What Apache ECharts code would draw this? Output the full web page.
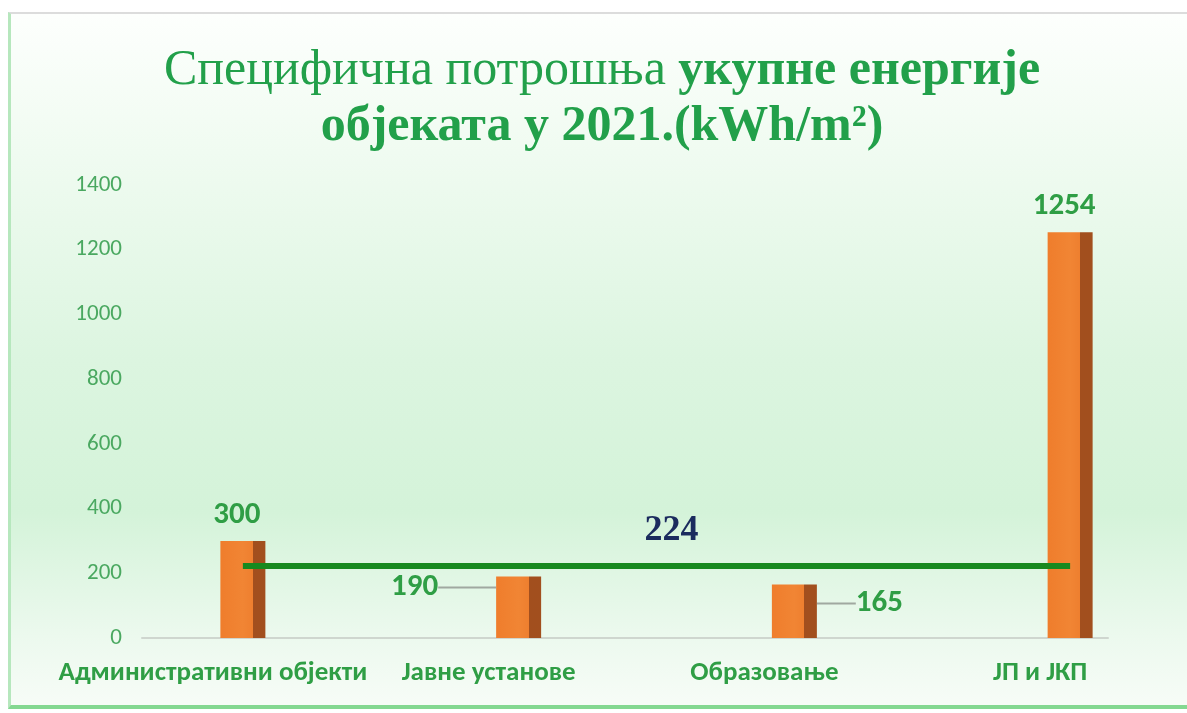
<!DOCTYPE html>
<html>
<head>
<meta charset="utf-8">
<script src="https://cdn.jsdelivr.net/npm/echarts@6/dist/echarts.min.js"></script>
<style>
  html, body { margin: 0; padding: 0; background: #ffffff; width: 1187px; height: 713px; overflow: hidden; }
  #wrap { position: absolute; left: 8px; top: 12px; width: 1179px; height: 697px; box-sizing: border-box; overflow: hidden;
          border-top: 2px solid #dcdcdc; border-left: 3px solid #b6e7bd; border-bottom: 4px solid #84d891; }
  #chart { width: 1240px; height: 691px; }
</style>
</head>
<body>
<div id="wrap"><div id="chart"></div></div>
<script>
// ---- data ----
const categories = ['Административни објекти', 'Јавне установе', 'Образовање', 'ЈП и ЈКП'];
const values = [300, 190, 165, 1254];
const average = 224;
const yTicks = { min: 0, max: 1400, interval: 200 };
const titleLine1Normal = 'Специфична потрошња ';
const titleLine1Bold = 'укупне енергије';
const titleLine2 = 'објеката у 2021.(kWh/m²)';

// ---- styling ----
const GREEN = '#22a04a';
const LABEL_GREEN = '#2f9e45';
const sans = "Carlito, 'Open Sans', sans-serif";
const serif = "'Liberation Serif', 'Times New Roman', serif";
// label displacement (relative to bar top centre) for labels with leader lines
const labelShift = { 1: [-104, 11], 2: [85, 19] };

const chart = echarts.init(document.getElementById('chart'), null, { renderer: 'canvas' });

const barData = values.map(function (v, i) {
  return { value: v, labelLine: { show: !!labelShift[i] } };
});

const option = {
  backgroundColor: {
    type: 'linear', x: 0, y: 0, x2: 0, y2: 1,
    colorStops: [
      { offset: 0, color: '#fdfffd' },
      { offset: 0.2, color: '#f0fbf1' },
      { offset: 0.5, color: '#dcf5e0' },
      { offset: 0.72, color: '#d4f3d9' },
      { offset: 0.9, color: '#ecf9ee' },
      { offset: 1, color: '#f7fcf7' }
    ]
  },
  title: {
    left: 586,
    textAlign: 'center',
    top: 24,
    text: '{n|' + titleLine1Normal + '}{b|' + titleLine1Bold + '}\n{b|' + titleLine2 + '}',
    textStyle: {
      fontWeight: 'normal',
      rich: {
        n: { fontFamily: serif, fontSize: 50, fontWeight: 'normal', color: GREEN, lineHeight: 56 },
        b: { fontFamily: serif, fontSize: 50, fontWeight: 'bold', color: GREEN, lineHeight: 56 }
      }
    }
  },
  grid: [
    { left: 94, width: 1103, top: 171, bottom: 67, containLabel: false },
    { left: 131, width: 966, top: 171, bottom: 67, containLabel: false }
  ],
  xAxis: [
    {
      type: 'category', gridIndex: 0, data: categories,
      axisLine: { show: false }, axisTick: { show: false },
      axisLabel: {
        margin: 22, color: LABEL_GREEN, fontFamily: sans, fontWeight: 'bold', fontSize: 27,
        padding: [0, 60, 0, 0], interval: 0
      }
    },
    {
      type: 'value', gridIndex: 1, min: 0, max: 1,
      axisLine: { show: true, lineStyle: { color: '#cfd6cf', width: 2 } },
      axisTick: { show: false }, axisLabel: { show: false }, splitLine: { show: false }
    }
  ],
  yAxis: [
    {
      type: 'value', gridIndex: 0, min: yTicks.min, max: yTicks.max, interval: yTicks.interval,
      offset: -25,
      axisLine: { show: false }, axisTick: { show: false }, splitLine: { show: false },
      axisLabel: {
        margin: 8, color: '#4aa860', fontFamily: sans, fontSize: 23,
        formatter: function (v) { return String(v); }
      }
    },
    {
      type: 'value', gridIndex: 1, min: yTicks.min, max: yTicks.max, interval: yTicks.interval,
      show: false
    }
  ],
  series: [
    {
      type: 'bar',
      xAxisIndex: 0, yAxisIndex: 0,
      data: barData,
      barWidth: 45,
      itemStyle: {
        color: {
          type: 'linear', x: 0, y: 0, x2: 1, y2: 0,
          colorStops: [
            { offset: 0, color: '#ef7d2c' },
            { offset: 0.5, color: '#f18534' },
            { offset: 0.72, color: '#ee7f2f' },
            { offset: 0.72, color: '#a24f1e' },
            { offset: 1, color: '#a24f1e' }
          ]
        }
      },
      label: {
        show: true, position: 'top', distance: 10,
        color: LABEL_GREEN, fontFamily: sans, fontWeight: 'bold', fontSize: 31
      },
      labelLine: { show: false, lineStyle: { color: '#a0a8a0', width: 2 } },
      labelLayout: function (p) {
        const cx = p.rect.x + p.rect.width / 2;
        const top = p.rect.y;
        const lcx = p.labelRect.x + p.labelRect.width / 2;
        const lcy = p.labelRect.y + p.labelRect.height / 2;
        const s = labelShift[p.dataIndex];
        if (s) {
          return { dx: cx + s[0] - lcx, dy: top + s[1] - lcy };
        }
        return { dx: -6 };
      },
      markLine: {
        silent: true,
        symbol: 'none',
        lineStyle: { color: '#17891f', width: 6, type: 'solid' },
        label: {
          show: true, position: 'middle', distance: 17,
          formatter: String(average),
          color: '#1b2b5e', fontFamily: serif, fontWeight: 'bold', fontSize: 36,
          padding: [0, 0, 0, 30]
        },
        data: [[
          { coord: [categories[0], average] },
          { coord: [categories[categories.length - 1], average] }
        ]]
      }
    }
  ]
};
chart.setOption(option);
</script>
</body>
</html>
